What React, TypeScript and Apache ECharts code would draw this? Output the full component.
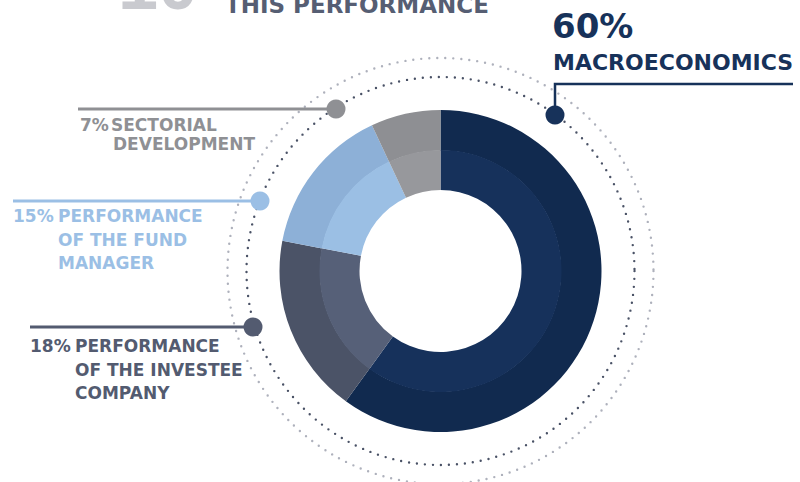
import React, { useEffect, useRef } from "react";
import * as echarts from "echarts";

const categories = [
  "MACROECONOMICS",
  "PERFORMANCE OF THE INVESTEE COMPANY",
  "PERFORMANCE OF THE FUND MANAGER",
  "SECTORIAL DEVELOPMENT",
];
const values = [60, 18, 15, 7];
const labelLines = [
  ["MACROECONOMICS"],
  ["PERFORMANCE", "OF THE INVESTEE", "COMPANY"],
  ["PERFORMANCE", "OF THE FUND", "MANAGER"],
  ["SECTORIAL", "DEVELOPMENT"],
];
const headingNumber = "10";
const headingText = "THIS PERFORMANCE";

const outerColors = ["#112a4f", "#4b5367", "#8db0d7", "#8e8f93"];
const innerColors = ["#16315b", "#566078", "#9bbfe4", "#97989c"];
const textColors = ["#17325a", "#535b70", "#9bbfe5", "#8f9094"];

export default function App() {
  const ref = useRef<HTMLDivElement>(null);

  useEffect(() => {
    if (!ref.current) return;
    const chart = echarts.init(ref.current, undefined, { renderer: "svg" });
    const cx = 440.5;
    const cy = 271;
    const font = (s: number) => `bold ${s}px "DejaVu Sans"`;

    const txt = (text: string, x: number, y: number, size: number, fill: string, extra: any = {}) => ({
      type: "text",
      silent: true,
      style: { text, x, y, font: font(size), fill, align: "left", verticalAlign: "middle", ...extra },
    });

    const graphics: any[] = [];
    // dotted circles
    graphics.push({
      type: "circle",
      silent: true,
      shape: { cx, cy, r: 213 },
      style: { fill: "none", stroke: "#aeb1bc", lineWidth: 2.4, lineDash: [0, 8], lineCap: "round" },
    });
    graphics.push({
      type: "circle",
      silent: true,
      shape: { cx, cy, r: 194 },
      style: { fill: "none", stroke: "#4a5266", lineWidth: 2.4, lineDash: [0, 8], lineCap: "round" },
    });

    // heading (cut off at top)
    graphics.push(
      txt(headingNumber, 118, -16, 72, "#c9cacf", { font: `bold 72px "Liberation Sans"` })
    );
    graphics.push(txt(headingText, 225, 4.6, 23, "#565e73"));

    // macro annotation
    graphics.push({
      type: "polyline",
      silent: true,
      shape: { points: [[555, 115], [555, 84], [793, 84]] },
      style: { fill: "none", stroke: textColors[0], lineWidth: 2.5 },
    });
    graphics.push({ type: "circle", silent: true, shape: { cx: 555, cy: 115, r: 9.5 }, style: { fill: textColors[0] } });
    graphics.push(txt(`${values[0]}%`, 552, 26, 34, textColors[0]));
    graphics.push(txt(labelLines[0][0], 553, 62, 22, textColors[0]));

    // sectorial
    graphics.push({
      type: "line",
      silent: true,
      shape: { x1: 78, y1: 109, x2: 336, y2: 109 },
      style: { stroke: textColors[3], lineWidth: 3 },
    });
    graphics.push({ type: "circle", silent: true, shape: { cx: 336, cy: 109, r: 9.5 }, style: { fill: textColors[3] } });
    graphics.push(txt(`${values[3]}%`, 80, 125, 17, textColors[3]));
    graphics.push(txt(labelLines[3][0], 111, 125, 17, textColors[3]));
    graphics.push(txt(labelLines[3][1], 113, 143.5, 17, textColors[3]));

    // fund manager
    graphics.push({
      type: "line",
      silent: true,
      shape: { x1: 13, y1: 201, x2: 260, y2: 201 },
      style: { stroke: textColors[2], lineWidth: 3 },
    });
    graphics.push({ type: "circle", silent: true, shape: { cx: 260, cy: 201, r: 9.5 }, style: { fill: textColors[2] } });
    graphics.push(txt(`${values[2]}%`, 13, 215.5, 17, textColors[2]));
    graphics.push(txt(labelLines[2][0], 58, 215.5, 17, textColors[2]));
    graphics.push(txt(labelLines[2][1], 58, 239.5, 17, textColors[2]));
    graphics.push(txt(labelLines[2][2], 58, 263, 17, textColors[2]));

    // investee
    graphics.push({
      type: "line",
      silent: true,
      shape: { x1: 30, y1: 327, x2: 253, y2: 327 },
      style: { stroke: textColors[1], lineWidth: 3 },
    });
    graphics.push({ type: "circle", silent: true, shape: { cx: 253, cy: 327, r: 9.5 }, style: { fill: textColors[1] } });
    graphics.push(txt(`${values[1]}%`, 30, 345.8, 17, textColors[1]));
    graphics.push(txt(labelLines[1][0], 75, 345.8, 17, textColors[1]));
    graphics.push(txt(labelLines[1][1], 75, 369.7, 17, textColors[1]));
    graphics.push(txt(labelLines[1][2], 75, 393.3, 17, textColors[1]));

    const mk = (colors: string[]) =>
      categories.map((name, i) => ({ name, value: values[i], itemStyle: { color: colors[i] } }));

    chart.setOption({
      animation: false,
      backgroundColor: "#ffffff",
      series: [
        {
          type: "pie",
          center: [cx, cy],
          radius: [120.5, 161],
          startAngle: 90,
          clockwise: true,
          silent: true,
          label: { show: false },
          labelLine: { show: false },
          itemStyle: { borderWidth: 0 },
          data: mk(outerColors),
          z: 2,
        },
        {
          type: "pie",
          center: [cx, cy],
          radius: [81, 121],
          startAngle: 90,
          clockwise: true,
          silent: true,
          label: { show: false },
          labelLine: { show: false },
          itemStyle: { borderWidth: 0 },
          data: mk(innerColors),
          z: 3,
        },
      ],
      graphic: { elements: graphics },
    });
    return () => chart.dispose();
  }, []);

  return (
    <div
      ref={ref}
      style={{ position: "fixed", left: 0, top: 0, width: 800, height: 482 }}
    />
  );
}
